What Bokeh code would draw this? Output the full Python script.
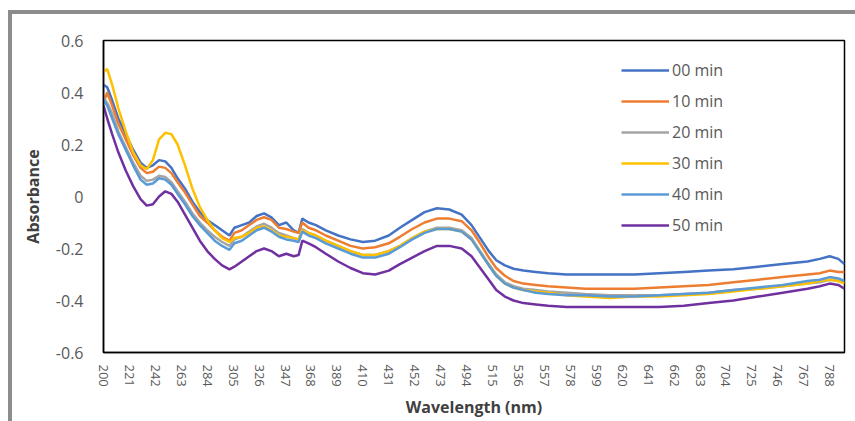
from bokeh.plotting import figure
from bokeh.models import FixedTicker, Legend, LegendItem
from bokeh.embed import file_html
from bokeh.resources import INLINE

wavelength = [200, 203, 207, 212, 218, 224, 230, 235, 240, 245, 250, 255, 260, 266, 272, 278,
              284, 290, 296, 302, 306, 312, 318, 324, 330, 336, 342, 348, 354, 358, 361, 366,
              372, 380, 390, 400, 410, 420, 431, 440, 450, 460, 470, 480, 490, 498, 505, 512,
              518, 525, 532, 540, 550, 560, 575, 590, 610, 630, 650, 670, 690, 710, 730, 750,
              770, 780, 788, 795, 800]

abs_00 = [0.43, 0.42, 0.37, 0.30, 0.24, 0.18, 0.13, 0.11, 0.12, 0.14, 0.135, 0.11, 0.07, 0.03, -0.02, -0.06,
          -0.09, -0.11, -0.13, -0.15, -0.12, -0.11, -0.10, -0.075, -0.065, -0.08, -0.11, -0.10, -0.13, -0.14, -0.085, -0.10,
          -0.11, -0.13, -0.15, -0.165, -0.175, -0.17, -0.15, -0.12, -0.09, -0.06, -0.045, -0.05, -0.07, -0.11, -0.16, -0.21,
          -0.245, -0.265, -0.278, -0.285, -0.29, -0.295, -0.30, -0.30, -0.30, -0.30, -0.295, -0.29, -0.285, -0.28, -0.27, -0.26,
          -0.25, -0.24, -0.23, -0.24, -0.26]
abs_10 = [0.36, 0.40, 0.35, 0.28, 0.22, 0.16, 0.11, 0.09, 0.095, 0.115, 0.11, 0.09, 0.055, 0.015, -0.03, -0.075,
          -0.10, -0.13, -0.155, -0.17, -0.14, -0.13, -0.11, -0.09, -0.08, -0.09, -0.12, -0.125, -0.135, -0.14, -0.10, -0.12,
          -0.13, -0.15, -0.17, -0.19, -0.20, -0.195, -0.18, -0.155, -0.125, -0.10, -0.085, -0.085, -0.095, -0.13, -0.18, -0.235,
          -0.275, -0.305, -0.325, -0.335, -0.34, -0.345, -0.35, -0.355, -0.355, -0.355, -0.35, -0.345, -0.34, -0.33, -0.32, -0.31,
          -0.30, -0.295, -0.285, -0.29, -0.29]
abs_20 = [0.38, 0.36, 0.32, 0.25, 0.19, 0.13, 0.08, 0.06, 0.065, 0.08, 0.075, 0.055, 0.02, -0.02, -0.065, -0.10,
          -0.13, -0.155, -0.175, -0.19, -0.165, -0.155, -0.135, -0.115, -0.105, -0.12, -0.14, -0.15, -0.16, -0.165, -0.125, -0.14,
          -0.15, -0.17, -0.19, -0.21, -0.225, -0.225, -0.21, -0.19, -0.16, -0.135, -0.12, -0.12, -0.13, -0.16, -0.21, -0.26,
          -0.30, -0.33, -0.345, -0.355, -0.36, -0.365, -0.37, -0.375, -0.38, -0.38, -0.38, -0.375, -0.37, -0.36, -0.355, -0.345,
          -0.335, -0.33, -0.32, -0.325, -0.33]
abs_30 = [0.48, 0.49, 0.43, 0.34, 0.25, 0.17, 0.12, 0.105, 0.14, 0.22, 0.245, 0.24, 0.20, 0.12, 0.03, -0.04,
          -0.09, -0.13, -0.16, -0.175, -0.16, -0.155, -0.14, -0.12, -0.115, -0.13, -0.15, -0.155, -0.16, -0.165, -0.13, -0.14,
          -0.15, -0.17, -0.19, -0.21, -0.225, -0.225, -0.21, -0.19, -0.16, -0.135, -0.125, -0.125, -0.135, -0.165, -0.215, -0.265,
          -0.305, -0.335, -0.35, -0.36, -0.365, -0.37, -0.38, -0.385, -0.39, -0.385, -0.385, -0.38, -0.375, -0.365, -0.355, -0.345,
          -0.335, -0.325, -0.32, -0.325, -0.335]
abs_40 = [0.37, 0.35, 0.30, 0.24, 0.18, 0.12, 0.065, 0.045, 0.05, 0.07, 0.065, 0.045, 0.01, -0.03, -0.075, -0.11,
          -0.14, -0.17, -0.19, -0.205, -0.18, -0.17, -0.15, -0.13, -0.12, -0.135, -0.155, -0.165, -0.17, -0.175, -0.135, -0.15,
          -0.16, -0.18, -0.20, -0.22, -0.235, -0.235, -0.22, -0.195, -0.165, -0.14, -0.125, -0.125, -0.135, -0.165, -0.215, -0.265,
          -0.305, -0.335, -0.35, -0.36, -0.37, -0.375, -0.38, -0.38, -0.385, -0.385, -0.38, -0.375, -0.37, -0.36, -0.35, -0.34,
          -0.325, -0.32, -0.31, -0.315, -0.325]
abs_50 = [0.35, 0.30, 0.24, 0.17, 0.10, 0.04, -0.01, -0.035, -0.03, 0.0, 0.02, 0.01, -0.02, -0.07, -0.12, -0.17,
          -0.21, -0.24, -0.265, -0.28, -0.27, -0.25, -0.23, -0.21, -0.20, -0.21, -0.23, -0.22, -0.23, -0.225, -0.17, -0.18,
          -0.195, -0.22, -0.25, -0.275, -0.295, -0.30, -0.285, -0.26, -0.235, -0.21, -0.19, -0.19, -0.20, -0.23, -0.275, -0.32,
          -0.36, -0.385, -0.40, -0.41, -0.415, -0.42, -0.425, -0.425, -0.425, -0.425, -0.425, -0.42, -0.41, -0.40, -0.385, -0.37,
          -0.355, -0.345, -0.335, -0.34, -0.355]

series_names = ["00 min", "10 min", "20 min", "30 min", "40 min", "50 min"]
series_values = [abs_00, abs_10, abs_20, abs_30, abs_40, abs_50]
series_colors = ["#4472C4", "#ED7D31", "#A5A5A5", "#FFC000", "#5B9BD5", "#7030A0"]

x_ticks = list(range(200, 789, 21))
y_ticks = [-0.6, -0.4, -0.2, 0.0, 0.2, 0.4, 0.6]
y_labels = ["-0.6", "-0.4", "-0.2", "0", "0.2", "0.4", "0.6"]

FONT = "Open Sans"
TICK_COLOR = "#595959"

p = figure(width=847, height=411, x_range=(200, 800), y_range=(-0.6, 0.6),
           output_backend="svg", toolbar_location=None,
           min_border_left=91, min_border_right=15, min_border_top=26, min_border_bottom=73)
p.styles = {"margin-left": "8px", "margin-top": "10px",
            "border-top": "4px solid #8c8c8c", "border-left": "4px solid #8c8c8c"}

p.xgrid.visible = False
p.ygrid.visible = False
p.outline_line_color = "#000000"
p.outline_line_width = 1.5

p.xaxis.ticker = FixedTicker(ticks=x_ticks)
p.yaxis.ticker = FixedTicker(ticks=y_ticks)
p.yaxis.major_label_overrides = {t: l for t, l in zip(y_ticks, y_labels)}

for ax in (p.xaxis, p.yaxis):
    ax.axis_line_color = "#000000"
    ax.axis_line_width = 1.5
    ax.major_tick_line_color = None
    ax.minor_tick_line_color = None
    ax.major_tick_out = 0
    ax.major_tick_in = 0
    ax.major_label_text_font = FONT
    ax.major_label_text_color = TICK_COLOR
    ax.axis_label_text_font = FONT
    ax.axis_label_text_font_style = "bold"
    ax.axis_label_text_color = "#404040"

p.xaxis.major_label_orientation = "vertical"
p.xaxis.major_label_text_font_size = "13px"
p.xaxis.major_label_standoff = 12
p.xaxis.axis_label = "Wavelength (nm)"
p.xaxis.axis_label_text_font_size = "16px"
p.xaxis.axis_label_standoff = 6

p.yaxis.major_label_text_font_size = "16px"
p.yaxis.major_label_standoff = 20
p.yaxis.axis_label = "Absorbance"
p.yaxis.axis_label_text_font_size = "16px"
p.yaxis.axis_label_standoff = 9

items = []
for name, vals, col in zip(series_names, series_values, series_colors):
    r = p.line(wavelength, vals, line_color=col, line_width=2.5)
    items.append(LegendItem(label=name, renderers=[r]))

legend = Legend(items=items, location=(518, 116), padding=0, margin=0,
                border_line_color=None, background_fill_alpha=0,
                glyph_width=48, glyph_height=20, label_height=20, spacing=9,
                label_standoff=3, label_text_font=FONT, label_text_font_size="16px",
                label_text_color=TICK_COLOR)
p.add_layout(legend)

open("out.html", "w").write(file_html(p, INLINE))
